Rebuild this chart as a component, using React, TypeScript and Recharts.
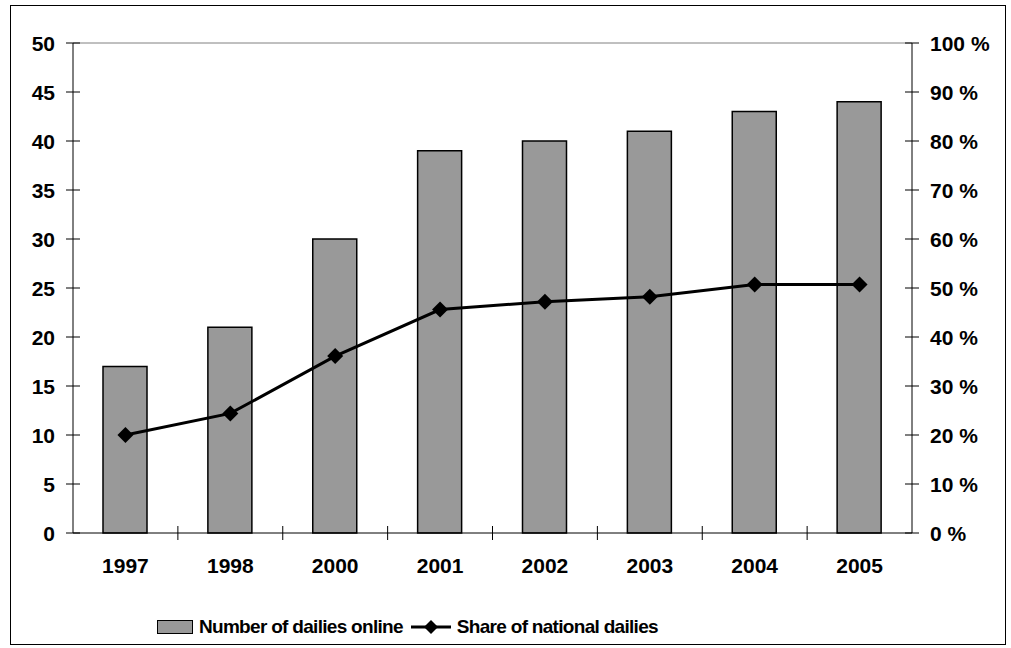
import React from "react";
import { ComposedChart, Bar, Line, XAxis, YAxis, ReferenceLine } from "recharts";

const years = ["1997", "1998", "2000", "2001", "2002", "2003", "2004", "2005"];
const dailiesOnline = [17, 21, 30, 39, 40, 41, 43, 44];
const nationalShare = [20, 24.4, 36.1, 45.6, 47.2, 48.2, 50.7, 50.7];
const leftTicks = [0, 5, 10, 15, 20, 25, 30, 35, 40, 45, 50];
const rightTicks = [0, 10, 20, 30, 40, 50, 60, 70, 80, 90, 100];

const data = years.map((year, i) => ({
  year,
  count: dailiesOnline[i],
  share: nationalShare[i],
}));

const FONT = "'Liberation Sans', Arial, sans-serif";
const NARROW = "'Liberation Sans Narrow', 'Liberation Sans', Arial, sans-serif";
const BAR_FILL = "#999999";
const TICK_SIZE = 21;

const LeftTick = (props: any) => {
  const { x, y, payload } = props;
  return (
    <g>
      <line x1={x - 7} x2={x + 7} y1={y} y2={y} stroke="#000" strokeWidth={1} />
      <text x={x - 18} y={y} dy="0.36em" textAnchor="end" fontFamily={FONT} fontWeight="bold" fontSize={TICK_SIZE} fill="#000">
        {payload.value}
      </text>
    </g>
  );
};

const RightTick = (props: any) => {
  const { x, y, payload } = props;
  return (
    <g>
      <line x1={x - 7} x2={x + 7} y1={y} y2={y} stroke="#000" strokeWidth={1} />
      <text x={x + 18} y={y} dy="0.36em" textAnchor="start" fontFamily={FONT} fontWeight="bold" fontSize={TICK_SIZE} fill="#000">
        {payload.value} %
      </text>
    </g>
  );
};

const YearTick = (props: any) => {
  const { x, y, payload, index } = props;
  const half = payload.offset ?? 52.4;
  return (
    <g>
      {index > 0 && (
        <line x1={x - half} x2={x - half} y1={y - 7} y2={y + 7} stroke="#000" strokeWidth={1} />
      )}
      <text x={x} y={y + 40} textAnchor="middle" fontFamily={FONT} fontWeight="bold" fontSize={TICK_SIZE} fill="#000">
        {payload.value}
      </text>
    </g>
  );
};

const Diamond = (props: any) => {
  const { cx, cy } = props;
  if (cx == null || cy == null) return null;
  const r = 8;
  return <polygon points={`${cx},${cy - r} ${cx + r},${cy} ${cx},${cy + r} ${cx - r},${cy}`} fill="#000" />;
};

export default function App() {
  return (
    <div style={{ position: "absolute", left: 0, top: 0, width: 1011, height: 648, background: "#fff" }}>
      <div
        style={{
          position: "absolute",
          left: 10,
          top: 5,
          width: 996,
          height: 640,
          border: "1px solid #000",
          boxSizing: "border-box",
        }}
      />
      <div style={{ position: "absolute", left: 0, top: 0 }}>
        <ComposedChart width={1011} height={648} data={data} margin={{ top: 43, right: 0, left: 0, bottom: 0 }}>
          <XAxis
            dataKey="year"
            height={115}
            tickSize={0}
            tickMargin={0}
            axisLine={{ stroke: "#000", strokeWidth: 1 }}
            tickLine={false}
            tick={<YearTick />}
            interval={0}
          />
          <YAxis
            yAxisId="left"
            width={73}
            domain={[0, 50]}
            ticks={leftTicks}
            tickSize={0}
            tickMargin={0}
            axisLine={{ stroke: "#000", strokeWidth: 1 }}
            tickLine={false}
            tick={<LeftTick />}
            interval={0}
          />
          <YAxis
            yAxisId="right"
            orientation="right"
            width={99}
            domain={[0, 100]}
            ticks={rightTicks}
            tickSize={0}
            tickMargin={0}
            axisLine={{ stroke: "#000", strokeWidth: 1 }}
            tickLine={false}
            tick={<RightTick />}
            interval={0}
          />
          <ReferenceLine yAxisId="left" y={50} stroke="#808080" strokeWidth={1} />
          <Bar
            yAxisId="left"
            dataKey="count"
            barSize={44}
            fill={BAR_FILL}
            stroke="#000"
            strokeWidth={1.5}
            isAnimationActive={false}
          />
          <Line
            yAxisId="right"
            dataKey="share"
            type="linear"
            stroke="#000"
            strokeWidth={3}
            dot={<Diamond />}
            activeDot={false}
            isAnimationActive={false}
          />
        </ComposedChart>
      </div>
      <div
        style={{
          position: "absolute",
          left: 157,
          top: 616,
          height: 22,
          display: "flex",
          alignItems: "center",
          fontFamily: NARROW,
          fontWeight: "bold",
          fontSize: 19,
          letterSpacing: -0.7,
          color: "#000",
          whiteSpace: "nowrap",
        }}
      >
        <span
          style={{
            display: "inline-block",
            width: 34,
            height: 12,
            background: BAR_FILL,
            border: "1px solid #000",
            marginRight: 6,
          }}
        />
        <span>Number of dailies online</span>
        <svg width={44} height={20} style={{ marginLeft: 6, marginRight: 4 }}>
          <line x1={2} x2={42} y1={10} y2={10} stroke="#000" strokeWidth={3} />
          <polygon points="22,3 29,10 22,17 15,10" fill="#000" />
        </svg>
        <span>Share of national dailies</span>
      </div>
    </div>
  );
}
